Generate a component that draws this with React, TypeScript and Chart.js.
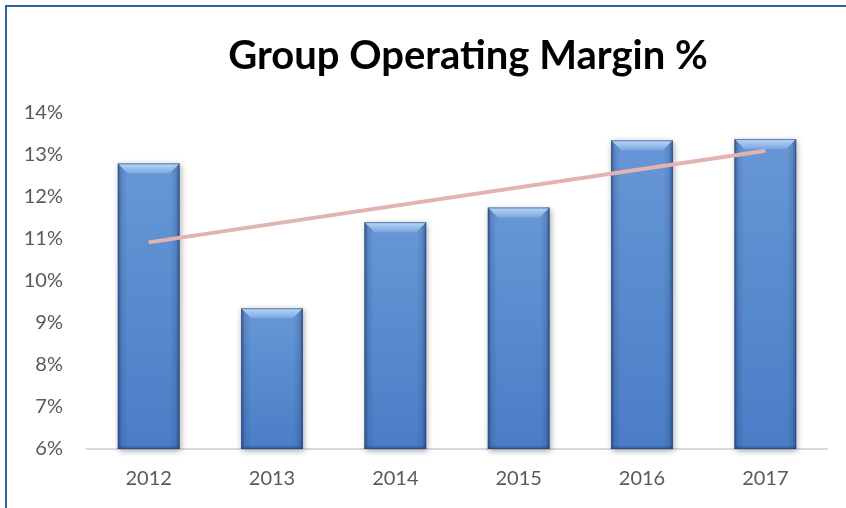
import React, { useEffect, useRef } from "react";
import { Chart, registerables } from "chart.js";

Chart.register(...registerables);

const chartTitle = "Group Operating Margin %";
const categories = ["2012", "2013", "2014", "2015", "2016", "2017"];
const marginValues = [12.8, 9.35, 11.4, 11.75, 13.35, 13.38];
// Linear trend line end points (only ends drawn)
const trendValues: (number | null)[] = [10.92, null, null, null, null, 13.1];
const yMin = 6;
const yMax = 14;
const yStep = 1;

const FONT = "Lato, 'Open Sans', sans-serif";

const titleShiftPlugin = {
  id: "titleShift",
  afterLayout(chart: any) {
    const t = chart.titleBlock;
    if (!t) return;
    const shift = 468 - (t.left + t.right) / 2;
    t.left += shift;
    t.right += shift;
  },
};

const bevelPlugin = {
  id: "bevelBars",
  afterDatasetDraw(chart: any, args: any) {
    if (args.index !== 0) return;
    const ctx = chart.ctx as CanvasRenderingContext2D;
    const area = chart.chartArea;
    const meta = chart.getDatasetMeta(0);
    meta.data.forEach((bar: any) => {
      const { x, y, base, width } = bar.getProps(["x", "y", "base", "width"], true);
      const x0 = x - width / 2;
      const x1 = x + width / 2;
      const top = Math.max(Math.min(y, base), area.top);
      const bottom = Math.min(Math.max(y, base), area.bottom);
      const h = bottom - top;
      if (h <= 0) return;
      ctx.save();
      ctx.shadowColor = "rgba(0,0,0,0.35)";
      ctx.shadowBlur = 6;
      ctx.shadowOffsetX = 1;
      ctx.shadowOffsetY = 2;
      const vg = ctx.createLinearGradient(0, top, 0, bottom);
      vg.addColorStop(0, "#6797d6");
      vg.addColorStop(1, "#4a7dc6");
      ctx.fillStyle = vg;
      ctx.fillRect(x0, top, width, h);
      ctx.shadowColor = "transparent";
      ctx.shadowBlur = 0;
      ctx.shadowOffsetX = 0;
      ctx.shadowOffsetY = 0;
      const hg = ctx.createLinearGradient(x0, 0, x1, 0);
      hg.addColorStop(0, "rgba(20,45,90,0.55)");
      hg.addColorStop(0.06, "rgba(20,45,90,0.15)");
      hg.addColorStop(0.15, "rgba(20,45,90,0)");
      hg.addColorStop(0.85, "rgba(20,45,90,0)");
      hg.addColorStop(0.94, "rgba(20,45,90,0.15)");
      hg.addColorStop(1, "rgba(20,45,90,0.55)");
      ctx.fillStyle = hg;
      ctx.fillRect(x0, top, width, h);
      const bg = ctx.createLinearGradient(0, bottom - 4, 0, bottom);
      bg.addColorStop(0, "rgba(20,45,90,0)");
      bg.addColorStop(1, "rgba(20,45,90,0.45)");
      ctx.fillStyle = bg;
      ctx.fillRect(x0, bottom - 4, width, 4);
      const bv = 10;
      const tg = ctx.createLinearGradient(0, top, 0, top + bv);
      tg.addColorStop(0, "#bcd7f7");
      tg.addColorStop(1, "#7aa7e0");
      ctx.fillStyle = tg;
      ctx.beginPath();
      ctx.moveTo(x0, top);
      ctx.lineTo(x1, top);
      ctx.lineTo(x1 - bv, top + bv);
      ctx.lineTo(x0 + bv, top + bv);
      ctx.closePath();
      ctx.fill();
      ctx.strokeStyle = "rgba(40,70,120,0.6)";
      ctx.lineWidth = 1;
      ctx.strokeRect(x0 + 0.5, top + 0.5, width - 1, h - 1);
      ctx.restore();
    });
  },
};

export default function App() {
  const canvasRef = useRef<HTMLCanvasElement | null>(null);

  useEffect(() => {
    if (!canvasRef.current) return;
    const chart = new Chart(canvasRef.current, {
      type: "bar",
      data: {
        labels: categories,
        datasets: [
          {
            type: "bar",
            label: "Operating Margin",
            data: marginValues,
            backgroundColor: "rgba(0,0,0,0)",
            base: yMin,
            barPercentage: 0.5,
            categoryPercentage: 1,
            order: 2,
          } as any,
          {
            type: "line",
            label: "Trend",
            data: trendValues,
            borderColor: "#e4b3b1",
            borderWidth: 4,
            pointRadius: 0,
            spanGaps: true,
            order: 1,
          } as any,
        ],
      },
      options: {
        responsive: false,
        animation: false,
        layout: { padding: { left: 0, right: 19, top: 0, bottom: 0 } },
        plugins: {
          legend: { display: false },
          tooltip: { enabled: false },
          title: {
            display: true,
            text: chartTitle,
            color: "#000000",
            font: { family: FONT, size: 40, weight: "bold" },
            padding: { top: 32, bottom: 33 },
          },
        },
        scales: {
          x: {
            grid: { display: false, drawTicks: false },
            border: { display: true, color: "#d9d9d9", width: 2 },
            ticks: {
              color: "#595959",
              font: { family: FONT, size: 20 },
              padding: 18,
            },
            afterFit: (scale: any) => {
              scale.height = 59;
            },
          },
          y: {
            min: yMin,
            max: yMax,
            grid: { display: false, drawTicks: false },
            border: { display: false },
            ticks: {
              stepSize: yStep,
              color: "#595959",
              font: { family: FONT, size: 20 },
              padding: 24,
              callback: (v: any) => `${v}%`,
            },
            afterFit: (scale: any) => {
              scale.width = 87;
            },
          },
        },
      },
      plugins: [titleShiftPlugin, bevelPlugin],
    });
    return () => chart.destroy();
  }, []);

  return (
    <div
      style={{
        position: "absolute",
        left: 0,
        top: 0,
        width: 846,
        height: 508,
        overflow: "hidden",
        background: "#ffffff",
      }}
    >
      <div
        style={{
          position: "absolute",
          left: 5,
          top: 5,
          width: 900,
          height: 600,
          border: "2px solid #3461a1",
          boxSizing: "border-box",
        }}
      />
      <canvas
        ref={canvasRef}
        width={846}
        height={508}
        style={{ position: "absolute", left: 0, top: 0 }}
      />
    </div>
  );
}
